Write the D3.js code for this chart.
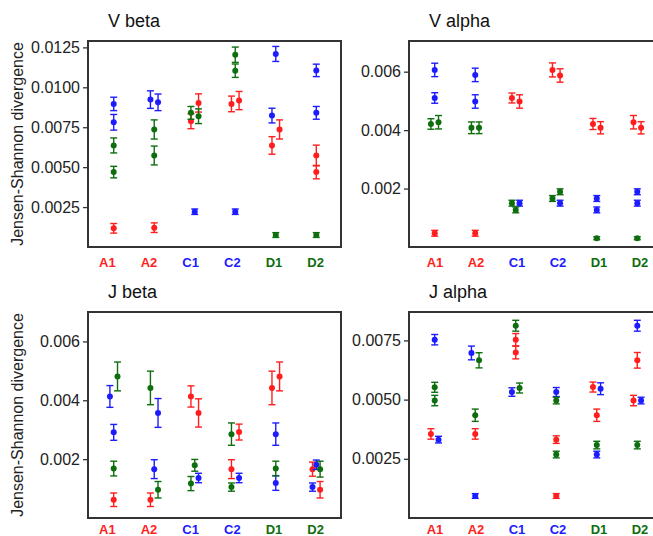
<!DOCTYPE html>
<html>
<head>
<meta charset="utf-8">
<title>Jensen-Shannon divergence</title>
<script src="https://d3js.org/d3.v7.min.js"></script>
<style>
    body { margin: 0; background: #fff; }
    text { font-family: "Liberation Sans", Arial, sans-serif; }
</style>
</head>
<body>
<svg id="chart" width="653" height="536"></svg>
<script>
// categories and their label colours
const categories = ["A1", "A2", "C1", "C2", "D1", "D2"]
const catGroup = ["red", "red", "blue", "blue", "green", "green"]

// each point: [category, slot (-1 left / 0 centre / 1 right), mean, error]
const vBetaRed = [["A1",0,0.00117,0.0003],["A2",0,0.00121,0.0003],["C1",-1,0.00788,0.00047],["C1",1,0.00902,0.00057],["C2",-1,0.00896,0.00049],["C2",1,0.00917,0.00057],["D1",-1,0.00636,0.00055],["D1",1,0.00736,0.0006],["D2",0,0.00573,0.00065],["D2",0,0.00469,0.00042]]
const vBetaBlue = [["A1",0,0.00896,0.00042],["A1",0,0.00781,0.00049],["A2",-1,0.00923,0.00055],["A2",1,0.00906,0.00052],["C1",0,0.00221,0.00017],["C2",0,0.00221,0.00017],["D1",0,0.01209,0.00047],["D1",-1,0.00823,0.00046],["D2",0,0.01106,0.00039],["D2",0,0.0084,0.0004]]
const vBetaGreen = [["A1",0,0.00636,0.00047],["A1",0,0.00469,0.00036],["A2",0,0.00736,0.0006],["A2",0,0.00573,0.00059],["C1",-1,0.0084,0.0004],["C1",1,0.00819,0.00046],["C2",0,0.01204,0.00048],["C2",0,0.01104,0.00042],["D1",0,0.00075,0.00015],["D2",0,0.00075,0.00015]]

const vAlphaRed = [["A1",0,0.00047,0.0001],["A2",0,0.00047,0.0001],["C1",-1,0.0051,0.00017],["C1",1,0.00498,0.00023],["C2",-1,0.00606,0.00024],["C2",1,0.00587,0.00023],["D1",-1,0.00421,0.00019],["D1",1,0.00408,0.00021],["D2",-1,0.00427,0.00023],["D2",1,0.00408,0.00021]]
const vAlphaBlue = [["A1",0,0.00606,0.00023],["A1",0,0.0051,0.00018],["A2",0,0.00589,0.00023],["A2",0,0.00498,0.00023],["C1",1,0.0015,0.0001],["C2",1,0.0015,0.0001],["D1",0,0.00166,0.0001],["D1",0,0.00127,0.0001],["D2",0,0.00189,0.0001],["D2",0,0.0015,0.0001]]
const vAlphaGreen = [["A1",-1,0.00421,0.00018],["A1",1,0.00427,0.00023],["A2",-1,0.00408,0.0002],["A2",1,0.00408,0.0002],["C1",-1,0.0015,0.0001],["C1",0,0.00127,0.0001],["C2",-1,0.00166,0.0001],["C2",1,0.00189,0.0001],["D1",0,0.0003,0.00005],["D2",0,0.0003,0.00005]]

const jBetaRed = [["A1",0,0.00062,0.00023],["A2",-1,0.00062,0.00023],["C1",-1,0.00413,0.00036],["C1",1,0.00357,0.00048],["C2",1,0.00292,0.00027],["C2",-1,0.00166,0.00032],["D1",-1,0.00442,0.00057],["D1",1,0.00481,0.00049],["D2",-1,0.00166,0.00024],["D2",1,0.00096,0.00028]]
const jBetaBlue = [["A1",-1,0.00413,0.00037],["A1",0,0.00291,0.00027],["A2",1,0.00357,0.00049],["A2",0,0.00166,0.00032],["C1",1,0.00136,0.00016],["C2",1,0.00136,0.00016],["D1",0,0.00285,0.00038],["D1",0,0.00119,0.00025],["D2",0,0.00181,0.00016],["D2",-1,0.00105,0.00014]]
const jBetaGreen = [["A1",1,0.00481,0.00049],["A1",0,0.00168,0.00025],["A2",-1,0.00442,0.00057],["A2",1,0.00096,0.00028],["C1",0,0.00179,0.0002],["C1",-1,0.00117,0.00024],["C2",-1,0.00285,0.00038],["C2",-1,0.00105,0.00014],["D1",0,0.00168,0.00025],["D2",1,0.00166,0.00027]]

const jAlphaRed = [["A1",-1,0.00355,0.00022],["A2",0,0.00355,0.00022],["C1",0,0.00753,0.00026],["C1",0,0.00699,0.00027],["C2",0,0.00331,0.00016],["C2",0,0.00093,0.0001],["D1",-1,0.00553,0.00021],["D1",0,0.00434,0.00026],["D2",-1,0.00496,0.00022],["D2",0,0.00666,0.00033]]
const jAlphaBlue = [["A1",0,0.00753,0.00022],["A1",1,0.00331,0.00014],["A2",-1,0.00697,0.00029],["A2",0,0.00093,0.0001],["C1",-1,0.00532,0.00018],["C2",0,0.00532,0.00019],["D1",1,0.00546,0.00025],["D1",0,0.00268,0.00014],["D2",0,0.00812,0.00023],["D2",1,0.00496,0.00014]]
const jAlphaGreen = [["A1",0,0.00552,0.00021],["A1",0,0.00496,0.00022],["A2",1,0.00666,0.00032],["A2",0,0.00434,0.00026],["C1",0,0.00812,0.00023],["C1",1,0.00549,0.00021],["C2",0,0.00496,0.00014],["C2",0,0.00268,0.00014],["D1",0,0.00308,0.00016],["D2",0,0.00308,0.00016]]

// y tick values per panel
const vBetaTicks = [0.0025, 0.005, 0.0075, 0.01, 0.0125]
const vAlphaTicks = [0.002, 0.004, 0.006]
const jBetaTicks = [0.002, 0.004, 0.006]
const jAlphaTicks = [0.0025, 0.005, 0.0075]

const colors = { red: "#ff1e1e", blue: "#1c1cff", green: "#0e6e0e" }

const svg = d3.select("#chart")

const panels = [
    { title: "V beta", x0: 88, y0: 41, yMax: 0.0129, ticks: vBetaTicks, fmt: ".4f", ylab: true, labDy: 20,
      series: { red: vBetaRed, blue: vBetaBlue, green: vBetaGreen } },
    { title: "V alpha", x0: 409, y0: 41, yMax: 0.00705, ticks: vAlphaTicks, fmt: ".3f", ylab: false, labDy: 20,
      series: { red: vAlphaRed, blue: vAlphaBlue, green: vAlphaGreen } },
    { title: "J beta", x0: 88, y0: 312, yMax: 0.007, ticks: jBetaTicks, fmt: ".3f", ylab: true, labDy: 16,
      series: { red: jBetaRed, blue: jBetaBlue, green: jBetaGreen } },
    { title: "J alpha", x0: 409, y0: 312, yMax: 0.0087, ticks: jAlphaTicks, fmt: ".4f", ylab: false, labDy: 16,
      series: { red: jAlphaRed, blue: jAlphaBlue, green: jAlphaGreen } }
]

const pw = 253, ph = 206
const dodge = 3.8

panels.forEach(p => {
    const xScale = d3.scalePoint()
        .domain(categories)
        .range([p.x0 + 1, p.x0 + pw])
        .padding(0.61)

    // labels under the left panels sit a little to the left of the points
    const labelScale = d3.scalePoint()
        .domain(categories)
        .range(p.ylab ? [p.x0 - 6, p.x0 + pw] : [p.x0 + 1, p.x0 + pw + 3])
        .padding(0.61)

    const yScale = d3.scaleLinear()
        .domain([0, p.yMax])
        .range([p.y0 + ph, p.y0])

    const yAxis = d3.axisLeft(yScale)
        .tickValues(p.ticks)
        .tickFormat(d3.format(p.fmt))
        .tickSize(5)
        .tickPadding(3)

    const ga = svg.append("g").attr("transform", `translate(${p.x0},0)`)
    yAxis(ga)
    ga.select(".domain").remove()
    ga.selectAll(".tick line").attr("stroke", "#333").attr("stroke-width", 1.3)
    ga.selectAll(".tick text")
        .attr("fill", "#222")
        .style("font-size", "16px")
        .style("font-family", "'Liberation Sans', Arial, sans-serif")

    svg.append("rect")
        .attr("x", p.x0)
        .attr("y", p.y0)
        .attr("width", pw)
        .attr("height", ph)
        .attr("fill", "none")
        .attr("stroke", "#333")
        .attr("stroke-width", 2)

    svg.append("text")
        .attr("x", p.x0 + 20)
        .attr("y", p.y0 - 14)
        .attr("fill", "#111")
        .style("font-size", "18px")
        .text(p.title)

    if (p.ylab) {
        svg.append("text")
            .attr("transform", `translate(23,${p.y0 + ph / 2}) rotate(-90)`)
            .attr("text-anchor", "middle")
            .attr("fill", "#222")
            .style("font-size", "16px")
            .text("Jensen-Shannon divergence")
    }

    svg.append("g").selectAll("text")
        .data(categories)
        .enter()
        .append("text")
        .attr("x", d => labelScale(d))
        .attr("y", p.y0 + ph + p.labDy)
        .attr("text-anchor", "middle")
        .attr("fill", (d, i) => colors[catGroup[i]])
        .style("font-size", "13px")
        .style("font-weight", "bold")
        .text(d => d)

    const g = svg.append("g")
    Object.keys(p.series).forEach(key => {
        const col = colors[key]
        const sel = g.append("g").selectAll("g")
            .data(p.series[key])
            .enter()
            .append("g")
            .attr("transform", d => `translate(${xScale(d[0]) + d[1] * dodge},0)`)

        sel.append("line")
            .attr("x1", 0).attr("x2", 0)
            .attr("y1", d => yScale(d[2] - d[3]))
            .attr("y2", d => yScale(d[2] + d[3]))
            .attr("stroke", col)
            .attr("stroke-width", 1.4)
        sel.append("line")
            .attr("x1", -3.5).attr("x2", 3.5)
            .attr("y1", d => yScale(d[2] + d[3]))
            .attr("y2", d => yScale(d[2] + d[3]))
            .attr("stroke", col)
            .attr("stroke-width", 1.4)
        sel.append("line")
            .attr("x1", -3.5).attr("x2", 3.5)
            .attr("y1", d => yScale(d[2] - d[3]))
            .attr("y2", d => yScale(d[2] - d[3]))
            .attr("stroke", col)
            .attr("stroke-width", 1.4)
        sel.append("circle")
            .attr("cx", 0)
            .attr("cy", d => yScale(d[2]))
            .attr("r", 3)
            .attr("fill", col)
    })
})
</script>
</body>
</html>
